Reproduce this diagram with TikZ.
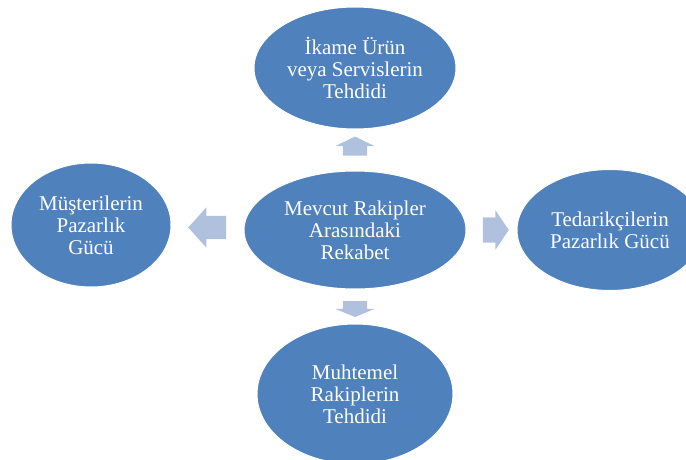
\documentclass[tikz,border=0pt]{standalone}
\usepackage{fontspec}
\setmainfont{Liberation Serif}
\usetikzlibrary{shapes.geometric,shapes.arrows,calc}
\definecolor{smartblue}{RGB}{79,129,189}
\definecolor{arrowblue}{RGB}{176,193,222}
\tikzset{
    bubble/.style={ellipse,fill=smartblue,draw=white,line width=1pt,text=white,
        align=center,inner sep=0pt,font=\fontsize{21}{22}\selectfont},
    blockarrow/.style={single arrow,fill=arrowblue,draw=none,inner xsep=0pt,
        single arrow head indent=0pt}
}
\begin{document}
\begin{tikzpicture}[x=1pt,y=1pt]
    \useasboundingbox (0,0) rectangle (686,459);
    \clip (0,0) rectangle (686,459);
    % five forces
    \node [bubble,minimum width=222pt,minimum height=118pt] (rivals) at (355,229) {Mevcut Rakipler\\Arasındaki\\Rekabet};
    \node [bubble,minimum width=202pt,minimum height=122pt] (substitutes) at (355,391) {İkame Ürün\\veya Servislerin\\Tehdidi};
    \node [bubble,minimum width=160pt,minimum height=124pt] (buyers) at (91,234) {Müşterilerin\\Pazarlık\\Gücü};
    \node [bubble,minimum width=186pt,minimum height=121pt] (suppliers) at (610,229) {Tedarikçilerin\\Pazarlık Gücü};
    \node [bubble,minimum width=196pt,minimum height=140pt] (entrants) at (355,65) {Muhtemel\\Rakiplerin\\Tehdidi};
    % block arrows
    \node [blockarrow,rotate=90,minimum height=19pt,inner ysep=12pt,single arrow head extend=7.5pt,single arrow tip angle=128] (upArrow) at ($(rivals.north)!0.5!(substitutes.south)+(0,1)$) {};
    \node [blockarrow,rotate=270,minimum height=16pt,inner ysep=12pt,single arrow head extend=7.5pt,single arrow tip angle=135] (downArrow) at ($(rivals.south)!0.5!(entrants.north)$) {};
    \node [blockarrow,rotate=180,minimum height=38pt,inner ysep=11.5pt,single arrow head extend=8.5pt,single arrow tip angle=96] (leftArrow) at ($(rivals.west)!0.5!(buyers.east)+(5,0)$) {};
    \node [blockarrow,minimum height=26pt,inner ysep=12.5pt,single arrow head extend=7pt,single arrow tip angle=112] (rightArrow) at ($(rivals.east)!0.5!(suppliers.west)$) {};
\end{tikzpicture}
\end{document}
